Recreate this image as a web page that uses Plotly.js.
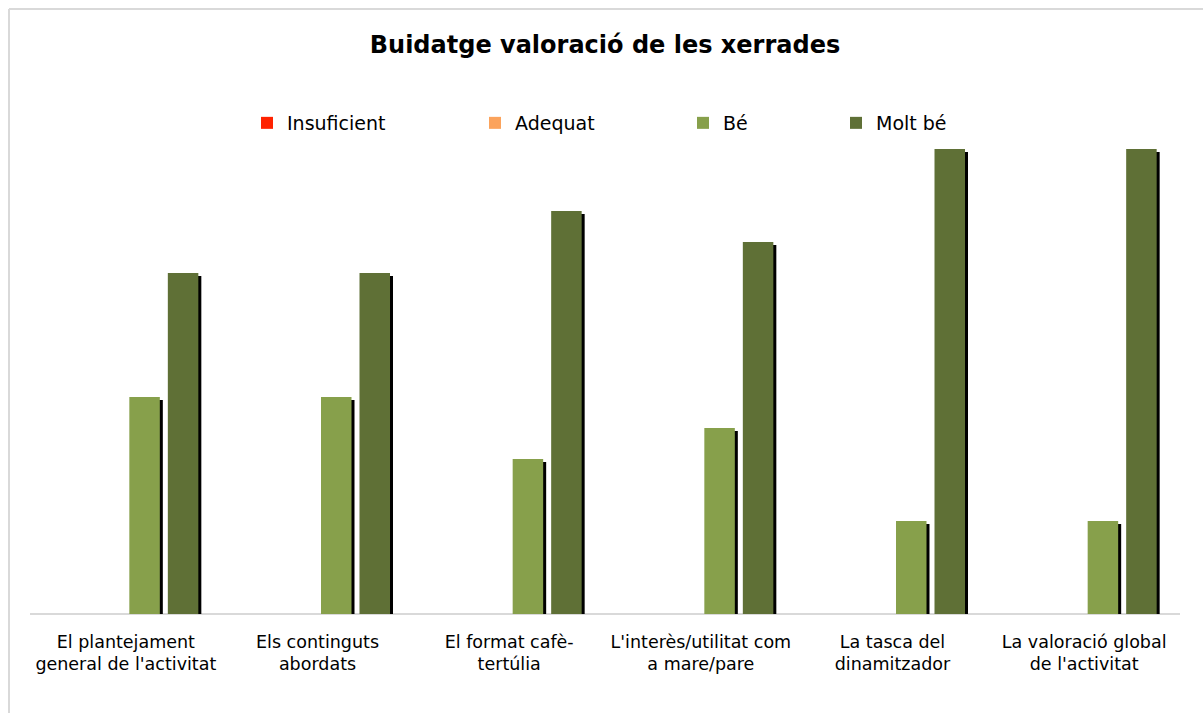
<!DOCTYPE html>
<html>
<head>
<meta charset="utf-8">
<script src="https://cdn.plot.ly/plotly-3.0.1.min.js"></script>
<style>
  html, body { margin: 0; padding: 0; background: #ffffff; }
  #chart { width: 1203px; height: 713px; }
</style>
</head>
<body>
<div id="chart"></div>
<script>
// ---- data ----
const categories = [
  "El plantejament<br>general de l'activitat",
  "Els continguts<br>abordats",
  "El format cafè-<br>tertúlia",
  "L'interès/utilitat com<br>a mare/pare",
  "La tasca del<br>dinamitzador",
  "La valoració global<br>de l'activitat"
];
const seriesNames = ["Insuficient", "Adequat", "Bé", "Molt bé"];
const insuficient = [0, 0, 0, 0, 0, 0];
const adequat = [0, 0, 0, 0, 0, 0];
const be = [7, 7, 5, 6, 3, 3];
const moltBe = [11, 11, 13, 12, 15, 15];
const seriesValues = [insuficient, adequat, be, moltBe];
const colors = ["#FF2200", "#FBA35C", "#87A04B", "#5F7036"];

// ---- layout geometry ----
const W = 1203, H = 713;
const M = { l: 30, r: 23, t: 149, b: 99 };
const plotW = W - M.l - M.r;
const plotH = H - M.t - M.b;
const yMax = 15;
const catPx = plotW / categories.length;
const barPx = 30.5;
const stepPx = 38.5;
const firstOffsetPx = 3.5 - 2 * stepPx;
const shadowPx = 3;
const fontFam = "DejaVu Sans, Verdana, sans-serif";

const traces = [];
// shadows first (drawn underneath)
seriesValues.forEach((vals, i) => {
  const offPx = firstOffsetPx + i * stepPx + shadowPx;
  traces.push({
    type: "bar", x: categories,
    y: vals.map(v => Math.max(0, v - (v > 0 ? shadowPx * yMax / plotH : 0))),
    offset: offPx / catPx, width: barPx / catPx,
    marker: { color: "#000000" },
    showlegend: false, hoverinfo: "skip"
  });
});
seriesValues.forEach((vals, i) => {
  const offPx = firstOffsetPx + i * stepPx;
  traces.push({
    type: "bar", x: categories, y: vals, name: seriesNames[i],
    offset: offPx / catPx, width: barPx / catPx,
    marker: { color: colors[i] },
    legend: i === 0 ? "legend" : "legend" + (i + 1)
  });
});

const legendTextStart = [287, 515, 723, 876];
const legendY = (M.t + plotH - 123) / plotH;
function mkLegend(i) {
  return {
    x: (legendTextStart[i] - 40 - M.l) / plotW, xanchor: "left",
    y: legendY, yanchor: "middle",
    orientation: "h", bgcolor: "rgba(0,0,0,0)",
    font: { family: fontFam, size: 19, color: "#000000" }
  };
}

const layout = {
  width: W, height: H,
  margin: M,
  paper_bgcolor: "#ffffff", plot_bgcolor: "#ffffff",
  barmode: "overlay",
  title: {
    text: "<b>Buidatge valoració de les xerrades</b>",
    font: { family: fontFam, size: 24, color: "#000000" },
    xref: "paper", x: 0.5, xanchor: "center",
    yref: "container", y: 1 - 45 / H, yanchor: "middle"
  },
  xaxis: {
    type: "category",
    showgrid: false, zeroline: false,
    showline: false,
    ticks: "", ticklabelstandoff: 15,
    tickfont: { family: fontFam, size: 17.5, color: "#000000" },
    fixedrange: true
  },
  yaxis: {
    range: [0, yMax], visible: false, showgrid: false, zeroline: false,
    fixedrange: true
  },
  legend: mkLegend(0),
  legend2: mkLegend(1),
  legend3: mkLegend(2),
  legend4: mkLegend(3),
  shapes: [
    { type: "line", xref: "paper", yref: "paper", layer: "below",
      x0: 0, x1: 1, y0: 0, y1: 0,
      line: { color: "#D9D9D9", width: 2 } },
    { type: "line", xref: "paper", yref: "paper",
      x0: (9 - M.l) / plotW, x1: (W + 5 - M.l) / plotW,
      y0: (M.t + plotH - 9) / plotH, y1: (M.t + plotH - 9) / plotH,
      line: { color: "#D9D9D9", width: 2 } },
    { type: "line", xref: "paper", yref: "paper",
      x0: (9 - M.l) / plotW, x1: (9 - M.l) / plotW,
      y0: (M.t + plotH - 9) / plotH, y1: (M.t + plotH - H - 5) / plotH,
      line: { color: "#D9D9D9", width: 2 } }
  ]
};

Plotly.newPlot("chart", traces, layout, { displayModeBar: false, staticPlot: true });
</script>
</body>
</html>
